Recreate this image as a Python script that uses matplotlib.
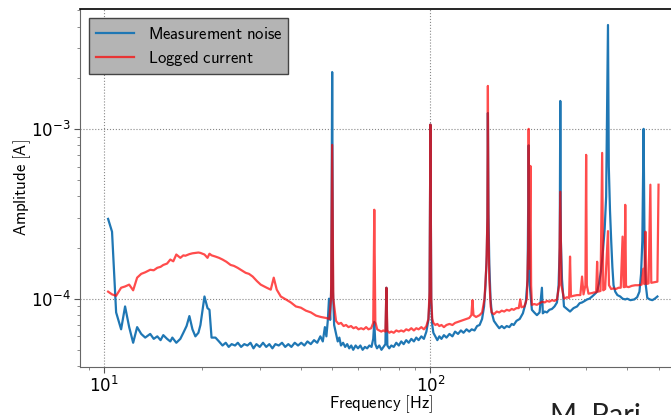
import matplotlib
matplotlib.use("Agg")
import matplotlib.pyplot as plt
from matplotlib.ticker import LogLocator, NullFormatter

plt.rcParams['mathtext.fontset'] = 'cm'

# measurement noise spectrum (Hz, A)
noise_freq = [10.29, 10.58, 10.89, 11.28, 11.6, 11.94, 12.28, 12.63, 13.0, 13.37,
              13.85, 14.2, 14.56, 14.9, 15.19, 15.6, 15.96, 16.19, 16.65, 17.13,
              17.5, 17.9, 18.26, 18.66, 19.05, 19.46, 19.74, 20.31, 20.75, 21.04,
              21.35, 21.95, 22.5, 23.07, 23.6, 24.1, 24.6, 25.2, 25.7, 26.3,
              26.9, 27.5, 28.1, 28.7, 29.3, 30.0, 30.7, 31.4, 32.1, 32.8,
              33.5, 34.3, 35.1, 35.9, 36.7, 37.5, 38.4, 39.3, 40.2, 41.1,
              42.0, 43.0, 44.0, 45.0, 46.0, 46.8, 47.5, 48.0, 48.5, 48.9,
              49.3, 49.7, 50.0, 50.3, 50.7, 51.4, 52.0, 52.6, 53.2, 54.0,
              54.8, 55.6, 56.4, 57.2, 58.0, 59.0, 60.0, 61.0, 62.0, 63.0,
              64.0, 65.0, 66.0, 66.8, 67.3, 67.8, 68.6, 69.7, 70.8, 71.8,
              72.8, 73.3, 73.8, 74.8, 75.9, 77.2, 78.6, 80.0, 81.4, 82.8,
              84.3, 85.8, 87.4, 89.0, 90.5, 92.0, 93.8, 95.5, 97.2, 98.6,
              99.4, 100.0, 100.6, 101.3, 102.1, 103.5, 105.0, 106.5, 108.1, 110.0,
              112.0, 114.4, 116.8, 119.0, 121.5, 124.0, 126.3, 129.0, 131.5, 133.8,
              136.5, 139.0, 141.5, 144.0, 146.0, 147.5, 148.8, 149.5, 150.0, 150.6,
              151.5, 152.8, 154.1, 156.5, 159.7, 162.5, 165.4, 168.3, 171.3, 174.5,
              177.5, 180.0, 183.5, 187.8, 192.0, 196.0, 198.5, 200.0, 201.5, 204.6,
              208.0, 212.0, 216.0, 219.6, 221.0, 224.0, 227.5, 231.5, 235.7, 240.0,
              244.2, 247.0, 249.0, 250.0, 251.0, 253.0, 256.6, 262.0, 267.8, 274.5,
              281.4, 286.5, 291.5, 297.0, 302.0, 307.0, 312.9, 318.0, 324.2, 328.8,
              333.0, 338.0, 342.0, 345.5, 350.0, 352.0, 355.0, 358.0, 361.0, 364.0,
              368.4, 374.0, 381.6, 388.0, 395.3, 401.0, 410.0, 421.4, 430.0, 437.0,
              442.0, 446.0, 450.0, 453.0, 457.0, 461.9, 470.0, 478.6, 487.0, 496.0]
noise_amp = [2.95e-4, 2.48e-4, 8.3e-5, 6.6e-5, 9.0e-5, 6.8e-5, 5.5e-5, 6.8e-5, 6.2e-5, 5.9e-5,
             6.2e-5, 5.8e-5, 6.0e-5, 5.7e-5, 6.1e-5, 5.8e-5, 5.6e-5, 5.9e-5, 5.5e-5, 5.8e-5,
             6.3e-5, 6.9e-5, 7.9e-5, 6.6e-5, 6.0e-5, 6.3e-5, 7.0e-5, 1.03e-4, 8.8e-5, 8.6e-5,
             5.9e-5, 5.9e-5, 5.6e-5, 5.3e-5, 5.5e-5, 5.2e-5, 5.4e-5, 5.3e-5, 5.5e-5, 5.2e-5,
             5.4e-5, 5.3e-5, 5.5e-5, 5.1e-5, 5.4e-5, 5.2e-5, 5.5e-5, 5.2e-5, 5.4e-5, 5.1e-5,
             5.4e-5, 5.3e-5, 5.5e-5, 5.2e-5, 5.4e-5, 5.2e-5, 5.5e-5, 5.3e-5, 5.5e-5, 5.3e-5,
             5.6e-5, 5.4e-5, 5.7e-5, 5.5e-5, 6.0e-5, 5.6e-5, 6.8e-5, 6.0e-5, 7.5e-5, 1.0e-4,
             7.5e-5, 1.2e-4, 2.16e-3, 1.1e-4, 7.0e-5, 6.2e-5, 5.6e-5, 5.9e-5, 5.3e-5, 5.5e-5,
             5.2e-5, 5.4e-5, 5.1e-5, 5.3e-5, 5.0e-5, 5.3e-5, 5.1e-5, 5.3e-5, 5.0e-5, 5.2e-5,
             5.1e-5, 5.3e-5, 5.2e-5, 5.8e-5, 7.3e-5, 5.4e-5, 5.1e-5, 5.3e-5, 5.0e-5, 5.2e-5,
             5.4e-5, 1.16e-4, 5.3e-5, 5.1e-5, 5.3e-5, 5.2e-5, 5.5e-5, 5.3e-5, 5.6e-5, 5.4e-5,
             5.7e-5, 5.5e-5, 5.8e-5, 5.6e-5, 5.9e-5, 5.7e-5, 6.0e-5, 5.8e-5, 6.4e-5, 7.5e-5,
             1.0e-4, 1.06e-3, 9.5e-5, 7.0e-5, 6.3e-5, 6.0e-5, 5.7e-5, 6.0e-5, 5.8e-5, 6.1e-5,
             5.9e-5, 6.2e-5, 6.0e-5, 6.4e-5, 6.2e-5, 6.5e-5, 6.3e-5, 6.6e-5, 6.4e-5, 6.6e-5,
             6.5e-5, 6.9e-5, 7.0e-5, 7.6e-5, 9.0e-5, 1.2e-4, 1.8e-4, 3.0e-4, 1.24e-3, 3.2e-4,
             1.6e-4, 1.0e-4, 8.3e-5, 7.4e-5, 7.0e-5, 6.7e-5, 6.9e-5, 6.7e-5, 6.9e-5, 6.8e-5,
             7.1e-5, 7.0e-5, 7.4e-5, 7.6e-5, 8.2e-5, 9.5e-5, 1.3e-4, 8.0e-4, 1.2e-4, 8.6e-5,
             8.3e-5, 8.0e-5, 8.3e-5, 1.16e-4, 8.2e-5, 8.4e-5, 8.3e-5, 8.6e-5, 8.7e-5, 9.0e-5,
             9.5e-5, 1.2e-4, 2.0e-4, 1.46e-3, 2.2e-4, 1.3e-4, 9.0e-5, 8.7e-5, 8.4e-5, 8.8e-5,
             9.0e-5, 9.4e-5, 9.5e-5, 9.7e-5, 9.9e-5, 1.0e-4, 1.03e-4, 1.06e-4, 1.1e-4, 1.24e-4,
             1.45e-4, 1.94e-4, 2.6e-4, 4.0e-4, 4.09e-3, 6.0e-4, 3.3e-4, 2.2e-4, 1.54e-4, 1.2e-4,
             1.1e-4, 1.05e-4, 1.03e-4, 1.0e-4, 9.9e-5, 1.0e-4, 9.8e-5, 9.9e-5, 1.02e-4, 1.1e-4,
             1.4e-4, 2.2e-4, 1.0e-3, 2.0e-4, 1.2e-4, 1.01e-4, 9.9e-5, 9.8e-5, 1.0e-4, 1.03e-4]

# logged current spectrum (Hz, A)
current_freq = [10.29, 10.58, 10.89, 11.28, 11.6, 11.94, 12.28, 12.63, 13.0, 13.37,
                13.85, 14.2, 14.56, 14.9, 15.19, 15.6, 15.96, 16.3, 16.65, 17.13,
                17.5, 17.75, 18.26, 18.66, 19.05, 19.46, 19.74, 20.31, 20.75, 21.04,
                21.35, 21.95, 22.5, 23.07, 23.7, 24.42, 25.0, 25.66, 26.4, 27.16,
                27.8, 28.54, 29.4, 30.2, 31.51, 32.42, 33.11, 33.82, 34.8, 36.06,
                37.36, 38.71, 40.1, 41.55, 43.04, 44.6, 46.2, 47.86, 49.0, 49.6,
                50.0, 50.4, 51.38, 52.3, 53.23, 54.2, 55.15, 56.1, 57.13, 58.1,
                59.18, 60.2, 61.33, 62.4, 63.54, 64.6, 65.83, 66.8, 67.3, 67.8,
                68.7, 69.68, 70.7, 71.7, 72.8, 73.3, 73.8, 74.8, 75.86, 77.2,
                78.6, 80.0, 81.4, 82.8, 84.3, 85.8, 87.4, 89.0, 90.5, 92.0,
                93.8, 95.5, 97.2, 98.6, 99.4, 100.0, 100.6, 101.3, 102.1, 103.5,
                105.0, 106.5, 108.1, 110.0, 112.0, 114.4, 116.8, 119.0, 121.5, 124.0,
                126.3, 129.0, 131.5, 133.5, 134.5, 135.5, 138.0, 141.5, 144.0, 146.5,
                148.5, 149.5, 150.0, 150.6, 151.5, 153.0, 154.1, 156.5, 159.7, 162.5,
                165.4, 168.3, 171.3, 174.5, 177.5, 180.0, 183.5, 186.5, 188.5, 190.0,
                194.0, 197.5, 199.3, 200.0, 201.2, 202.5, 203.5, 204.6, 208.0, 212.0,
                216.0, 220.0, 224.0, 227.5, 231.5, 235.7, 240.0, 244.2, 248.0, 250.0,
                252.0, 256.6, 262.0, 266.0, 267.8, 269.5, 274.5, 281.4, 288.0, 291.5,
                294.5, 298.5, 300.0, 301.5, 305.0, 312.9, 318.0, 322.0, 324.2, 326.5,
                332.0, 335.9, 338.5, 343.0, 350.0, 352.5, 358.0, 364.0, 370.0, 377.0,
                383.0, 388.0, 391.0, 393.5, 395.3, 397.5, 405.0, 414.0, 424.0, 433.0,
                444.0, 449.0, 452.0, 456.0, 459.0, 466.0, 472.0, 475.0, 486.0, 496.0,
                500.0]
current_amp = [1.10e-4, 1.06e-4, 1.04e-4, 1.16e-4, 1.18e-4, 1.21e-4, 1.12e-4, 1.33e-4, 1.40e-4, 1.43e-4,
               1.48e-4, 1.47e-4, 1.52e-4, 1.54e-4, 1.58e-4, 1.61e-4, 1.70e-4, 1.66e-4, 1.82e-4, 1.74e-4,
               1.80e-4, 1.79e-4, 1.83e-4, 1.85e-4, 1.86e-4, 1.87e-4, 1.86e-4, 1.82e-4, 1.74e-4, 1.84e-4,
               1.80e-4, 1.77e-4, 1.74e-4, 1.70e-4, 1.65e-4, 1.58e-4, 1.56e-4, 1.52e-4, 1.47e-4, 1.42e-4,
               1.40e-4, 1.35e-4, 1.27e-4, 1.21e-4, 1.16e-4, 1.13e-4, 1.33e-4, 1.13e-4, 1.03e-4, 9.9e-5,
               9.5e-5, 9.0e-5, 8.85e-5, 8.5e-5, 8.3e-5, 7.95e-5, 7.8e-5, 7.7e-5, 7.6e-5, 1.0e-4,
               8.05e-4, 1.0e-4, 7.4e-5, 7.1e-5, 7.2e-5, 6.9e-5, 7.0e-5, 6.8e-5, 6.9e-5, 6.7e-5,
               6.8e-5, 6.6e-5, 6.7e-5, 6.6e-5, 6.8e-5, 6.6e-5, 6.7e-5, 7.2e-5, 3.34e-4, 7.3e-5,
               6.6e-5, 6.5e-5, 6.4e-5, 6.5e-5, 6.4e-5, 1.16e-4, 6.5e-5, 6.3e-5, 6.4e-5, 6.3e-5,
               6.5e-5, 6.4e-5, 6.5e-5, 6.4e-5, 6.6e-5, 6.5e-5, 6.7e-5, 6.5e-5, 6.7e-5, 6.6e-5,
               6.8e-5, 6.6e-5, 6.9e-5, 7.6e-5, 1.1e-4, 1.06e-3, 1.0e-4, 7.6e-5, 7.2e-5, 7.0e-5,
               7.1e-5, 6.9e-5, 7.0e-5, 6.8e-5, 7.0e-5, 7.1e-5, 7.0e-5, 7.2e-5, 7.3e-5, 7.4e-5,
               7.5e-5, 7.6e-5, 7.7e-5, 8.0e-5, 9.8e-5, 8.0e-5, 7.8e-5, 8.0e-5, 8.3e-5, 1.0e-4,
               1.6e-4, 3.0e-4, 1.79e-3, 2.5e-4, 1.3e-4, 9.0e-5, 8.3e-5, 8.1e-5, 8.4e-5, 8.3e-5,
               8.5e-5, 8.4e-5, 8.6e-5, 8.5e-5, 8.7e-5, 8.6e-5, 8.8e-5, 8.8e-5, 9.9e-5, 8.9e-5,
               9.0e-5, 1.0e-4, 2.0e-4, 1.0e-3, 1.5e-4, 6.05e-4, 1.2e-4, 9.2e-5, 9.3e-5, 9.2e-5,
               9.4e-5, 9.6e-5, 9.5e-5, 9.7e-5, 9.6e-5, 9.8e-5, 9.7e-5, 9.9e-5, 1.2e-4, 4.26e-4,
               1.2e-4, 1.0e-4, 1.02e-4, 1.01e-4, 1.77e-4, 1.03e-4, 1.04e-4, 1.05e-4, 1.05e-4, 1.35e-4,
               1.06e-4, 1.2e-4, 7.03e-4, 1.2e-4, 1.07e-4, 1.08e-4, 1.09e-4, 1.09e-4, 1.65e-4, 1.10e-4,
               1.11e-4, 7.22e-4, 1.12e-4, 1.14e-4, 2.5e-4, 1.2e-4, 1.14e-4, 1.15e-4, 1.14e-4, 1.16e-4,
               1.16e-4, 2.32e-4, 1.17e-4, 1.17e-4, 3.57e-4, 1.18e-4, 1.17e-4, 1.19e-4, 1.20e-4, 1.20e-4,
               1.21e-4, 1.5e-4, 1.22e-4, 2.48e-4, 1.22e-4, 1.23e-4, 4.69e-4, 1.24e-4, 1.25e-4, 1.26e-4,
               4.69e-4]

fig = plt.figure(figsize=(6.71, 4.15), dpi=100)
ax = fig.add_axes([80/671, 48/415, 602/671, 358/415])

ax.plot(noise_freq, noise_amp, color='#1f77b4', lw=1.6,
        label=r'$\mathsf{Measurement\ noise}$')
ax.plot(current_freq, current_amp, color='red', lw=1.6, alpha=0.7,
        label=r'$\mathsf{Logged\ current}$')

ax.set_xscale('log')
ax.set_yscale('log')
ax.set_xlim(8.44, 590)
ax.set_ylim(3.96e-5, 5.08e-3)

ax.xaxis.set_minor_locator(LogLocator(base=10, subs=range(2, 10)))
ax.yaxis.set_minor_locator(LogLocator(base=10, subs=range(2, 10)))
ax.xaxis.set_minor_formatter(NullFormatter())
ax.yaxis.set_minor_formatter(NullFormatter())
ax.tick_params(which='major', direction='out', length=4, width=0.8, color='#555555',
               labelsize=12, pad=2.5)
ax.tick_params(which='minor', direction='out', length=2.5, width=0.6, color='#777777')
ax.tick_params(top=False, right=False, which='both')

ax.grid(True, which='major', ls=':', color='#888888', lw=0.8)

ax.spines['top'].set_color('black')
ax.spines['top'].set_linewidth(1.2)
ax.spines['left'].set_color('#666666')
ax.spines['bottom'].set_color('#666666')
ax.spines['right'].set_visible(False)

ax.set_xlabel(r'$\mathsf{Frequency\ [Hz]}$', fontsize=12, labelpad=-2)
ax.set_ylabel(r'$\mathsf{Amplitude\ [A]}$', fontsize=12, labelpad=-1)

leg = ax.legend(loc='upper left', fontsize=12, handlelength=2.3, fancybox=False,
                framealpha=1.0, borderaxespad=0.55, labelspacing=0.35)
leg.get_frame().set_facecolor('#b4b4b4')
leg.get_frame().set_edgecolor('#444444')

fig.text(550/671, 1 - 403/415, 'M. Pari', fontsize=21, color='#222222',
         va='top', ha='left', family='Lato')

fig.savefig('out.png', dpi=100)
